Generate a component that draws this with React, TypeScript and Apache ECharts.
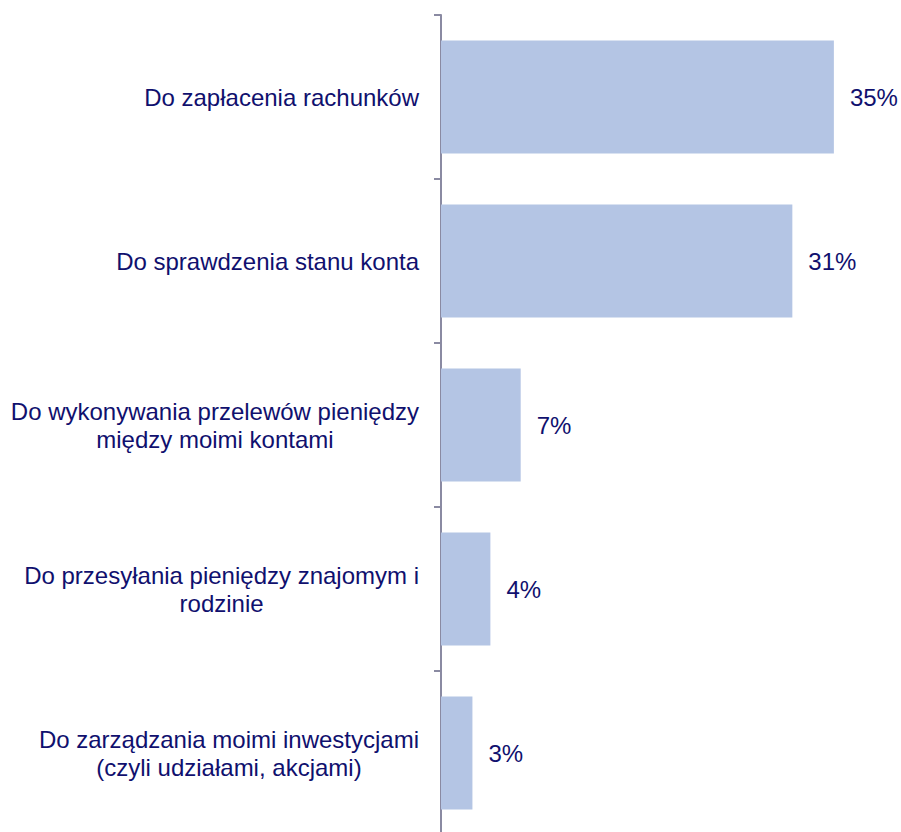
import React, { useEffect, useRef } from "react";
import * as echarts from "echarts";

const categories = [
  "Do zapłacenia rachunków",
  "Do sprawdzenia stanu konta",
  "Do wykonywania przelewów pieniędzy\nmiędzy moimi kontami",
  "Do przesyłania pieniędzy znajomym i\nrodzinie",
  "Do zarządzania moimi inwestycjami\n(czyli udziałami, akcjami)",
];
const values = [35, 31.3, 7.1, 4.4, 2.8];

const NAVY = "#10106E";
const FONT = "'Liberation Sans', Arial, sans-serif";

export default function App() {
  const ref = useRef<HTMLDivElement>(null);
  useEffect(() => {
    if (!ref.current) return;
    const chart = echarts.init(ref.current, undefined, { renderer: "svg" });
    chart.setOption({
      animation: false,
      backgroundColor: "#ffffff",
      grid: { left: 441, right: 11, top: 15, bottom: 5, containLabel: false },
      xAxis: { type: "value", min: 0, max: 40, show: false },
      yAxis: {
        type: "category",
        inverse: true,
        data: categories,
        axisLine: { show: true, lineStyle: { color: "#8A8AA2", width: 2 } },
        axisTick: { show: true, length: 7, lineStyle: { color: "#8A8AA2", width: 2 } },
        splitLine: { show: false },
        axisLabel: {
          margin: 22,
          align: "right",
          formatter: (v: string) =>
            v
              .split("\n")
              .map((l) => `{c|${l}}`)
              .join("\n"),
          rich: {
            c: {
              align: "center",
              fontSize: 24,
              lineHeight: 28,
              color: NAVY,
              fontFamily: FONT,
            },
          },
        },
      },
      series: [
        {
          type: "bar",
          data: values,
          barCategoryGap: "31%",
          itemStyle: { color: "#B4C5E4" },
          label: {
            show: true,
            position: "right",
            distance: 16,
            fontSize: 24,
            color: NAVY,
            fontFamily: FONT,
            formatter: (p: any) => `${Math.round(p.value)}%`,
          },
        },
      ],
    });
    return () => chart.dispose();
  }, []);
  return (
    <div
      ref={ref}
      style={{ position: "fixed", left: 0, top: 0, width: 901, height: 840, background: "#fff" }}
    />
  );
}
